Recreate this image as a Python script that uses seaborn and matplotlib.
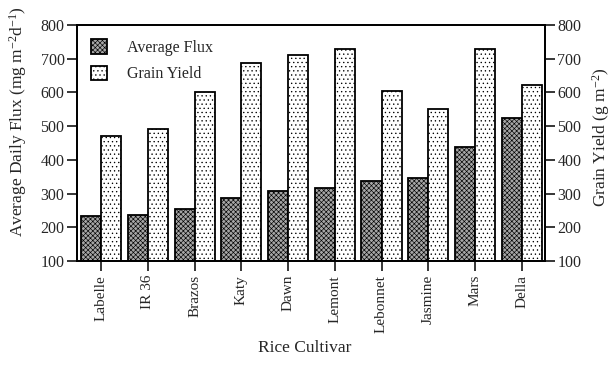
import matplotlib
matplotlib.use("Agg")
import matplotlib.pyplot as plt
import seaborn as sns
import pandas as pd
from matplotlib.patches import Patch

cultivars = ["Labelle", "IR 36", "Brazos", "Katy", "Dawn", "Lemont",
             "Lebonnet", "Jasmine", "Mars", "Della"]
avg_flux = [232, 236, 253, 288, 307, 316, 336, 346, 438, 524]
grain_yield = [470, 493, 601, 688, 710, 730, 605, 551, 728, 621]
series = ["Average Flux", "Grain Yield"]
yticks = [100, 200, 300, 400, 500, 600, 700, 800]

sns.set_style("white")
plt.rcParams["font.family"] = ["Liberation Serif", "DejaVu Serif"]
plt.rcParams["mathtext.fontset"] = "custom"
plt.rcParams["mathtext.rm"] = "Liberation Serif"
plt.rcParams["mathtext.it"] = "Liberation Serif:italic"
plt.rcParams["mathtext.bf"] = "Liberation Serif:bold"
plt.rcParams["hatch.linewidth"] = 0.45

df = pd.DataFrame({
    "Cultivar": cultivars * 2,
    "Series": [series[0]] * len(cultivars) + [series[1]] * len(cultivars),
    "Value": avg_flux + grain_yield,
})

fig = plt.figure(figsize=(6.13, 3.72), dpi=100)
ax = fig.add_axes([77 / 613, 1 - 261 / 372, (545 - 77) / 613, (261 - 25) / 372])

sns.barplot(data=df, x="Cultivar", y="Value", hue="Series", order=cultivars,
            hue_order=series, width=0.86, gap=0, ax=ax, legend=False,
            palette=["#9a9a9a", "white"], edgecolor="black", linewidth=1.3,
            saturation=1, errorbar=None)

styles = {0: dict(fc="#a6a6a6", hatch="xxxxxxx", hc="#3a3a3a"),
          1: dict(fc="white", hatch="....", hc="black")}
for i, cont in enumerate(ax.containers):
    st = styles[i]
    for bar in cont:
        bar.set_facecolor(st["fc"])
        bar.set_hatch(st["hatch"])
        bar._hatch_color = matplotlib.colors.to_rgba(st["hc"])
        bar.set_edgecolor("black")

ax.set_ylim(100, 800)
ax.set_xlim(-0.52, 9.5)
ax.set_yticks(yticks)
ax.set_xlabel("")
ax.set_ylabel("")
ax.tick_params(axis="x", rotation=90, labelsize=11, direction="out", length=7,
               width=1.3, bottom=True, pad=3)
ax.tick_params(axis="y", labelsize=11.5, direction="out", length=7, width=1.3,
               left=True, pad=2)
for s in ax.spines.values():
    s.set_linewidth(1.3)
    s.set_color("black")

ax2 = ax.twinx()
ax2.set_ylim(100, 800)
ax2.set_yticks(yticks)
ax2.tick_params(axis="y", labelsize=11.5, direction="out", length=7, width=1.3,
                right=True, pad=2)
for s in ax2.spines.values():
    s.set_linewidth(1.3)
    s.set_color("black")

handles = [Patch(facecolor=styles[0]["fc"], edgecolor="black", hatch=styles[0]["hatch"], label=series[0]),
           Patch(facecolor="white", edgecolor="black", hatch="....", label=series[1])]
leg = ax.legend(handles=handles, loc="upper left", frameon=False, fontsize=11.5,
                handlelength=1.0, handleheight=1.0, handletextpad=1.2,
                bbox_to_anchor=(0.0, 1.0), borderaxespad=0.5, labelspacing=0.6)
for h in leg.legend_handles:
    h.set_linewidth(1.3)

fig.text(18 / 613, 1 - 122 / 372, "Average Daily Flux (mg m$^{-2}$d$^{-1}$)",
         rotation=90, ha="center", va="center", fontsize=12.5)
fig.text(601 / 613, 1 - 137 / 372, "Grain Yield (g m$^{-2}$)",
         rotation=90, ha="center", va="center", fontsize=12.5)
fig.text(305 / 613, 1 - 348 / 372, "Rice Cultivar", ha="center", va="center",
         fontsize=12.5)

fig.savefig("out.png", dpi=100)
